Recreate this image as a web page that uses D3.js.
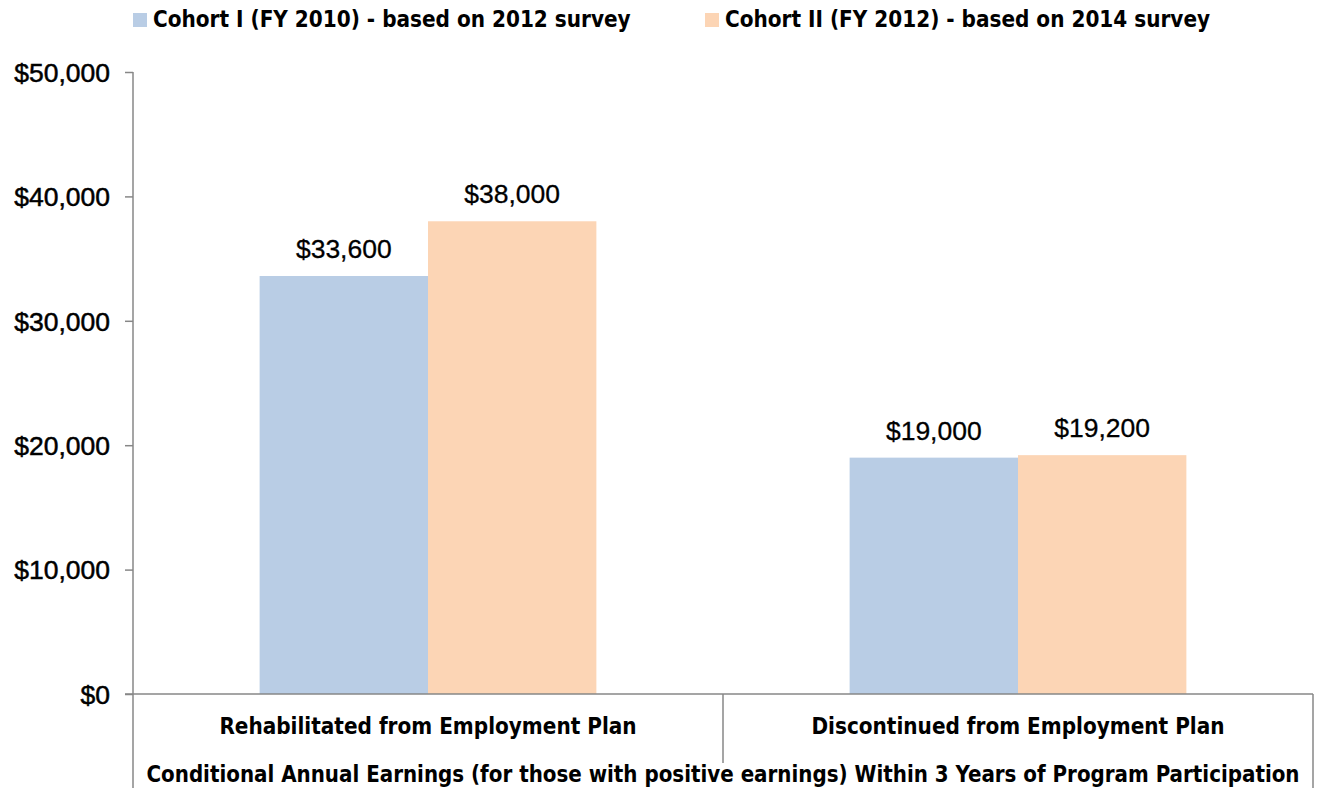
<!DOCTYPE html>
<html><head><meta charset="utf-8">
<script src="https://cdn.jsdelivr.net/npm/d3@7"></script>
<style>
body{margin:0;background:#fff;}
.nar{font-family:"Liberation Sans Narrow","DejaVu Sans Condensed","Roboto Condensed",sans-serif;font-weight:bold;}
.num{font-family:"Liberation Sans",Arial,sans-serif;}
</style></head>
<body>
<svg id="c" width="1320" height="788"></svg>
<script>
const categories = ["Rehabilitated from Employment Plan", "Discontinued from Employment Plan"];
const seriesNames = ["Cohort I (FY 2010) - based on 2012 survey", "Cohort II (FY 2012) - based on 2014 survey"];
const cohort1 = [33600, 19000];
const cohort2 = [38000, 19200];
const yTicks = [0, 10000, 20000, 30000, 40000, 50000];
const axisTitle = "Conditional Annual Earnings (for those with positive earnings) Within 3 Years of Program Participation";
const colors = ["#B9CDE5", "#FCD5B5"];

const svg = d3.select("#c");
const L = 133, R = 1313, T = 72, B = 694;
const fmt = d3.format("$,");

const x0 = d3.scaleBand().domain(categories).range([L, R]).padding(0);
const x1 = d3.scaleBand().domain([0, 1]).range([0, x0.bandwidth()]).paddingInner(0).paddingOuter(0.752);
const y = d3.scaleLinear().domain([0, 50000]).range([B, T]);

const data = categories.map((c, i) => ({c, v: [cohort1[i], cohort2[i]]}));

// bars
const g = svg.selectAll("g.grp").data(data).join("g").attr("class", "grp")
  .attr("transform", d => `translate(${x0(d.c)},0)`);
g.selectAll("rect").data(d => d.v.map((v, s) => ({v, s}))).join("rect")
  .attr("x", d => x1(d.s)).attr("width", x1.bandwidth())
  .attr("y", d => y(d.v)).attr("height", d => B - y(d.v))
  .attr("fill", d => colors[d.s]);
g.selectAll("text").data(d => d.v.map((v, s) => ({v, s}))).join("text")
  .attr("class", "num")
  .attr("x", d => x1(d.s) + x1.bandwidth() / 2)
  .attr("y", d => y(d.v) - 18)
  .attr("text-anchor", "middle")
  .attr("font-size", 26.5)
  .attr("fill", "#000").attr("stroke", "#000").attr("stroke-width", 0.3)
  .text(d => fmt(d.v));

const lineC = "#878787";
// y axis
const yAxis = d3.axisLeft(y).tickValues(yTicks).tickFormat(fmt).tickSize(8).tickPadding(15);
const ya = svg.append("g").attr("transform", `translate(${L},0)`).call(yAxis);
ya.select(".domain").remove();
ya.selectAll(".tick line").attr("stroke", lineC).attr("stroke-width", 1.5);
ya.selectAll(".tick text").attr("class", "num").attr("font-size", 26.5).attr("fill", "#000")
  .attr("stroke", "#000").attr("stroke-width", 0.5).attr("dy", "0.35em");

// axis lines
svg.append("line").attr("x1", L).attr("x2", L).attr("y1", T).attr("y2", 788).attr("stroke", lineC).attr("stroke-width", 1.5);
svg.append("line").attr("x1", L - 8).attr("x2", R).attr("y1", B).attr("y2", B).attr("stroke", lineC).attr("stroke-width", 1.5);
svg.append("line").attr("x1", R).attr("x2", R).attr("y1", B).attr("y2", 788).attr("stroke", lineC).attr("stroke-width", 1.5);
svg.append("line").attr("x1", x0(categories[1])).attr("x2", x0(categories[1])).attr("y1", B).attr("y2", 763).attr("stroke", lineC).attr("stroke-width", 1.5);

// category labels
svg.selectAll("text.cat").data(categories).join("text").attr("class", "cat nar")
  .attr("x", d => x0(d) + x0.bandwidth() / 2).attr("y", 734)
  .attr("text-anchor", "middle").attr("font-size", 22.3).attr("fill", "#000").text(d => d);
svg.append("text").attr("class", "nar").attr("x", (L + R) / 2).attr("y", 782)
  .attr("text-anchor", "middle").attr("font-size", 22.1).attr("fill", "#000").text(axisTitle);

// legend
const legX = [133, 705];
const lg = svg.selectAll("g.leg").data(seriesNames).join("g").attr("class", "leg")
  .attr("transform", (d, i) => `translate(${legX[i]},0)`);
lg.append("rect").attr("x", 0).attr("y", 13).attr("width", 14).attr("height", 14).attr("fill", (d, i) => colors[i]);
lg.append("text").attr("class", "nar").attr("x", 20).attr("y", 27).attr("font-size", 22.3).attr("fill", "#000").text(d => d);
</script>
</body></html>
